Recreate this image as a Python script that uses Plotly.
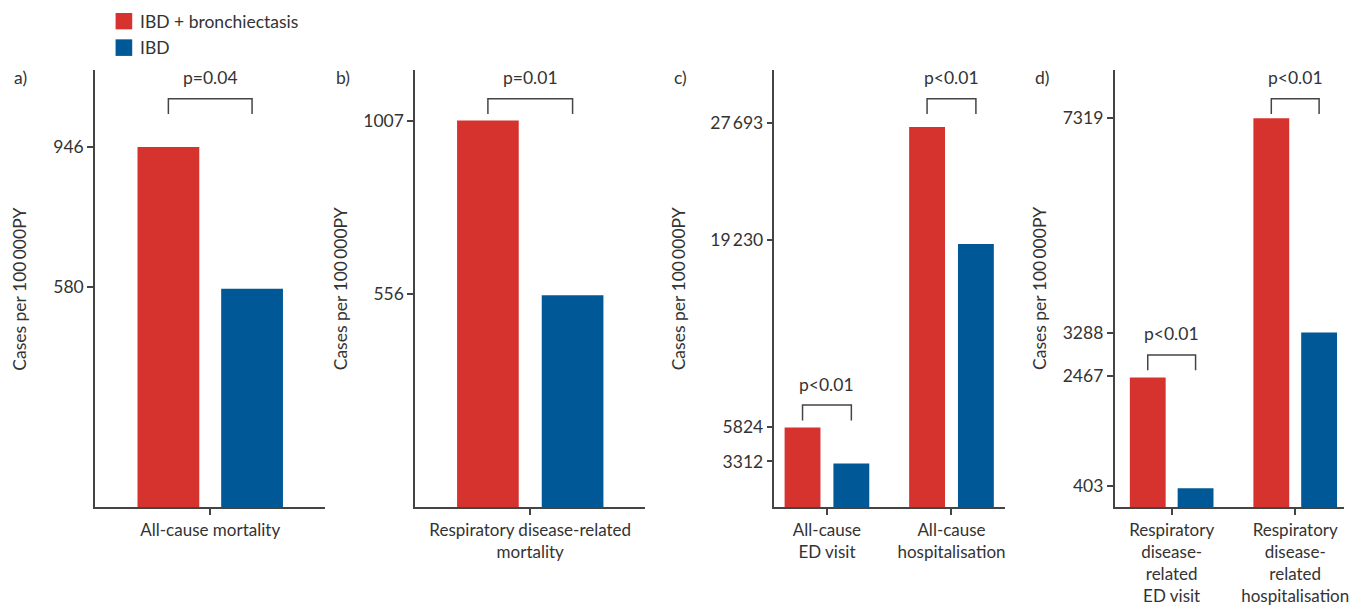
import plotly.graph_objects as go

# ---------------- data ----------------
series_names = ["IBD + bronchiectasis", "IBD"]

cat_a = ["All-cause mortality"]
red_a = [946]
blue_a = [574]
ticks_a = [580, 946]
ticktext_a = ["580", "946"]

cat_b = ["Respiratory disease-related<br>mortality"]
red_b = [1007]
blue_b = [552]
ticks_b = [556, 1007]
ticktext_b = ["556", "1007"]

cat_c = ["All-cause<br>ED visit", "All-cause<br>hospitalisation"]
red_c = [5750, 27385]
blue_c = [3162, 18975]
ticks_c = [3312, 5824, 19230, 27693]
ticktext_c = ["3312", "5824", "19\u2009230", "27\u2009693"]

cat_d = ["Respiratory<br>disease-<br>related<br>ED visit",
         "Respiratory<br>disease-<br>related<br>hospitalisation"]
red_d = [2445, 7319]
blue_d = [362, 3290]
ticks_d = [403, 2467, 3288, 7319]
ticktext_d = ["403", "2467", "3288", "7319"]

pvals_a = ["p=0.04"]
pvals_b = ["p=0.01"]
pvals_c = ["p<0.01", "p<0.01"]
pvals_d = ["p<0.01", "p<0.01"]

panel_letters = ["a)", "b)", "c)", "d)"]
y_title = "Cases per 100\u2009000PY"

# ---------------- styles / layout ----------------
W, H = 1358, 606
RED = "#D6332F"
BLUE = "#005896"
INK = "#333333"
AXIS = "#444444"
FONT = "Lato, 'Open Sans', sans-serif"
FS = 17.5
FS_CAT = 17

Y_TOP, Y_BOT = 70.3, 508.3  # pixel extent of plotting areas

panels = [
    dict(cats=cat_a, red=red_a, blue=blue_a, tv=ticks_a, tt=ticktext_a, p=pvals_a,
         px=(95.3, 326.7), xr=(-0.5, 0.5), w=0.268, gap=0.095, ymax=1148,
         levels=["top"], lab_x=12, title_x=20),
    dict(cats=cat_b, red=red_b, blue=blue_b, tv=ticks_b, tt=ticktext_b, p=pvals_b,
         px=(416.7, 647.7), xr=(-0.5, 0.5), w=0.268, gap=0.1, ymax=1138,
         levels=["top"], lab_x=335, title_x=341.7),
    dict(cats=cat_c, red=red_c, blue=blue_c, tv=ticks_c, tt=ticktext_c, p=pvals_c,
         px=(777.3, 1008.3), xr=(-0.4216, 1.4264), w=0.288, gap=0.104, ymax=31481,
         levels=["bar", "top"], lab_x=674, title_x=681),
    dict(cats=cat_d, red=red_d, blue=blue_d, tv=ticks_d, tt=ticktext_d, p=pvals_d,
         px=(1118.7, 1349.3), xr=(-0.462, 1.3976), w=0.29, gap=0.097, ymax=8225,
         levels=["bar", "top"], lab_x=1036.7, title_x=1044),
]


def py2paper(py):
    return 1 - py / H


def val2py(panel, v):
    return Y_BOT - v / panel["ymax"] * (Y_BOT - Y_TOP)


fig = go.Figure()
shapes = []
annotations = []

for i, pn in enumerate(panels):
    n = i + 1
    xa = "x" if n == 1 else f"x{n}"
    ya = "y" if n == 1 else f"y{n}"
    w, g = pn["w"], pn["gap"]
    red_off = -w - g / 2
    blue_off = g / 2

    fig.add_trace(go.Bar(x=pn["cats"], y=pn["red"], name=series_names[0],
                         marker=dict(color=RED, line=dict(width=0)),
                         width=w, offset=red_off, xaxis=xa, yaxis=ya,
                         showlegend=False, hoverinfo="skip"))
    fig.add_trace(go.Bar(x=pn["cats"], y=pn["blue"], name=series_names[1],
                         marker=dict(color=BLUE, line=dict(width=0)),
                         width=w, offset=blue_off, xaxis=xa, yaxis=ya,
                         showlegend=False, hoverinfo="skip"))

    axis_common = dict(showline=True, linecolor=AXIS, linewidth=1.5,
                       ticks="outside", ticklen=6, tickwidth=1.5, tickcolor=AXIS,
                       showgrid=False, zeroline=False)
    fig.update_layout(**{
        ("xaxis" if n == 1 else f"xaxis{n}"): dict(
            axis_common, domain=[pn["px"][0] / W, pn["px"][1] / W],
            range=list(pn["xr"]), anchor=ya, type="category", fixedrange=True,
            tickfont=dict(family=FONT, size=FS_CAT, color=INK)),
        ("yaxis" if n == 1 else f"yaxis{n}"): dict(
            axis_common, domain=[py2paper(Y_BOT), py2paper(Y_TOP)],
            range=[0, pn["ymax"]], anchor=xa, tickmode="array",
            tickvals=pn["tv"], ticktext=pn["tt"], fixedrange=True,
            tickfont=dict(family=FONT, size=FS, color=INK)),
    })

    # significance brackets
    for k, (pv, lvl) in enumerate(zip(pn["p"], pn["levels"])):
        xl = k + red_off + w / 2
        xr = k + blue_off + w / 2
        if lvl == "top":
            yb = 114.2
        else:
            yb = val2py(pn, pn["red"][k]) - 7.2
        yt = yb - 15.4
        path = (f"M {xl},{py2paper(yb)} L {xl},{py2paper(yt)} "
                f"L {xr},{py2paper(yt)} L {xr},{py2paper(yb)}")
        shapes.append(dict(type="path", path=path, xref=xa, yref="paper",
                           line=dict(color=AXIS, width=1.5)))
        annotations.append(dict(text=pv, x=(xl + xr) / 2, xref=xa,
                                y=py2paper(yt - 21), yref="paper",
                                xanchor="center", yanchor="middle", showarrow=False,
                                font=dict(family=FONT, size=FS, color=INK)))

    # panel letter
    annotations.append(dict(text=panel_letters[i], x=pn["lab_x"] / W, xref="paper",
                            y=py2paper(77.6), yref="paper", xanchor="left",
                            yanchor="middle", showarrow=False,
                            font=dict(family=FONT, size=FS, color=INK)))
    # y-axis title
    annotations.append(dict(text=y_title, x=pn["title_x"] / W, xref="paper",
                            y=py2paper((Y_TOP + Y_BOT) / 2), yref="paper",
                            xanchor="center", yanchor="middle", textangle=-90,
                            showarrow=False,
                            font=dict(family=FONT, size=FS, color=INK)))

# legend (drawn)
legend_rows = [(series_names[0], RED, 13.0, 29.4), (series_names[1], BLUE, 39.4, 56.0)]
for name, col, y0, y1 in legend_rows:
    shapes.append(dict(type="rect", xref="paper", yref="paper",
                       x0=116 / W, x1=132.7 / W, y0=py2paper(y1), y1=py2paper(y0),
                       fillcolor=col, line=dict(width=0)))
    annotations.append(dict(text=name, x=138.5 / W, xref="paper",
                            y=py2paper((y0 + y1) / 2), yref="paper",
                            xanchor="left", yanchor="middle", showarrow=False,
                            font=dict(family=FONT, size=FS, color=INK)))

fig.update_layout(width=W, height=H, margin=dict(l=0, r=0, t=0, b=0),
                  paper_bgcolor="white", plot_bgcolor="white",
                  barmode="overlay", shapes=shapes, annotations=annotations,
                  showlegend=False, font=dict(family=FONT, size=FS, color=INK))

fig.write_html("out.html", config={"displayModeBar": False},
               post_script="document.body.style.margin='0px';"
                           "document.body.style.overflow='hidden';")
